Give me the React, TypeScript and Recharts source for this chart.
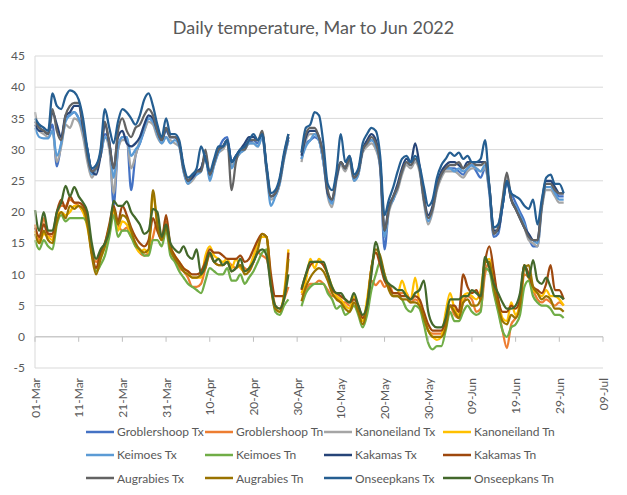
import { LineChart, Line, XAxis, YAxis, CartesianGrid, ReferenceLine } from "recharts";

// day 0 = 01-Mar-2022, one value per day, null = no record
const xTicks = [0, 10, 20, 30, 40, 50, 60, 70, 80, 90, 100, 110, 120, 130];
const xTickLabels = ["01-Mar", "11-Mar", "21-Mar", "31-Mar", "10-Apr", "20-Apr", "30-Apr", "10-May", "20-May", "30-May", "09-Jun", "19-Jun", "29-Jun", "09-Jul"];
const yTicks = [-5, 0, 5, 10, 15, 20, 25, 30, 35, 40, 45];

const groblershoopTx = [
  34.5, 33.5, 33, 32.5, 34, 27.3, 31, 35, 35.5, 36,
  35, 33, 30, 26.5, 27.5, 29, 32.5, 31.5, 21, 30,
  32, 32, 23.5, 29, 31, 33, 35, 34.5, 32.5, 31.5,
  33, 32, 32, 31, 27, 25, 25.5, 26.5, 27, 29,
  26, 28, 30, 31.5, 32, 28, 29, 30, 30.5, 31,
  31.5, 31, 32.5, 27, 22.5, 23, 25, 29, 32, null,
  null, 28.5, 31, 31.5, 32, 31.5, 28, 23, 21.5, 25.5,
  28, 27, 28.5, 25.5, 26.5, 30, 31, 31.5, 30.5, 27,
  14, 20.5, 22, 24, 26.5, 28, 27.5, 28.5, 27, 22,
  19, 20.5, 24, 26, 27, 27, 27, 26.5, 26, 27,
  27.5, 26.5, 25.5, 27, 23, 16, 16.5, 21, 24.5, 23,
  21.5, 20, 18.5, 16, 14.5, 14.5, 21, 24.5, 24.5, 23.5,
  22.5, 22.5,
];
const groblershoopTn = [
  18, 15.5, 19, 16.5, 16, 19.5, 21, 21, 22, 21.5,
  21, 20, 18.5, 14, 12, 13.5, 15, 17.5, 20, 18,
  17, 17.5, 16, 15, 13.5, 13, 13.5, 16, 18.5, 16,
  18.5, 14, 12.5, 11, 10.5, 9.5, 8, 8, 8.5, 11,
  13, 12, 11.5, 11.5, 12, 11.5, 11, 11.5, 11, 10.5,
  12, 13.5, 13, 12.5, 9, 5, 4.5, 6, 8, null,
  null, 6.7, 7.5, 8.5, 8.5, 9, 8.5, 7.5, 6.5, 6.5,
  5.5, 5.5, 5, 5, 4, 3, 5, 9, 8.3, 9,
  8, 8.5, 7, 7, 7, 7, 5.5, 6, 5.5, 3.5,
  1, 0.5, 0.5, 0.5, 2.5, 5, 3.5, 3, 5.5, 6.5,
  6, 4, 4.5, 10, 12, 7.5, 4.5, 1, -1.8, 2,
  3, 5, 10, 9.5, 7.5, 6, 5.5, 6, 5.5, 5,
  5.5, 5,
];
const kanoneilandTx = [
  36, 33, 32.5, 32, 33, 28, 30.5, 34, 33.5, 35,
  34.5, 32, 28, 25.5, 27, 29, 32, 30, 23, 30,
  31.5, 31.5, 27, 29, 31.5, 33, 34.5, 34, 32, 31,
  32, 31.5, 31, 30.5, 26.5, 24.5, 25, 26, 26.5, 28.5,
  25.5, 27.5, 29.5, 30, 31, 27.5, 28.5, 29.5, 30, 31,
  31, 30.5, 32, 26.5, 22, 22.5, 24.5, 28.5, 31.5, null,
  null, 28, 31.5, 32.5, 32.5, 31.5, 28, 22.5, 20.8, 25,
  27.5, 26.5, 28, 25, 26, 29.5, 30.5, 31, 30, 27.5,
  16, 20, 22, 23.5, 26, 27.5, 27, 28, 26.5, 21.5,
  18, 20, 23.5, 25.5, 26.5, 26.5, 26.5, 26, 25.5, 26.5,
  27, 27, 26.5, 27, 23.5, 16.5, 17, 21.5, 26, 22,
  20.5, 19, 17.5, 15.5, 15, 14.5, 20.5, 23.5, 23.5, 22.5,
  21.5, 21.5,
];
const kanoneilandTn = [
  17, 15, 16.5, 16, 15.5, 19.5, 20, 19.5, 20, 21,
  21, 20, 17.5, 13.5, 10.5, 12.5, 14.5, 17, 20.5, 17,
  18.5, 18, 16.5, 14.5, 13.5, 14, 13.5, 23, 18, 15.5,
  17.5, 14.5, 13, 12, 11, 10.5, 9.5, 9.5, 9.5, 13,
  14.5, 13, 12.5, 12, 12.5, 11, 12.5, 11, 10.5, 11,
  13, 15, 16, 16, 9, 4.5, 4, 7, 14, null,
  null, 7, 9, 12.5, 11, 12.5, 11.5, 10, 8, 6.5,
  6, 5, 4.5, 6.5, 4.5, 2.5, 6, 11, 13.5, 12.5,
  9.5, 8, 7, 7, 9, 7, 6, 9.5, 5.5, 3,
  1, 0, -0.5, 0, 4, 7, 4.5, 3.5, 6.5, 7,
  6.5, 6, 7.5, 12, 12.5, 9.5, 6, 3, 2.5, 5.5,
  3.5, 5.5, 11.5, 9.5, 7.5, 7, 6.5, 7.5, 6.5, 6.5,
  6, 5,
];
const keimoesTx = [
  33.5, 32, 31.8, 31.8, 33, 29, 31, 34.5, 35.5, 36,
  35, 33, 29, 26, 27, 29, 32, 31, 25.5, 30.5,
  32, 32, 29, 30, 31, 33.5, 35, 34.5, 32.5, 31,
  32, 31, 31.5, 30.5, 26.5, 24.5, 25.5, 26, 26.5, 29,
  25, 27.5, 29.5, 30.5, 31, 27, 28.5, 29.5, 30, 31,
  31, 30.5, 32, 26.5, 21, 22.5, 24.5, 28.5, 31.5, null,
  null, 28.5, 30.5, 31.5, 32.5, 31.5, 28, 23, 21.3, 25.5,
  28, 27, 28.5, 25, 26, 30, 31, 31.5, 30.5, 27.5,
  16, 20.5, 22, 24, 26.5, 28, 27.5, 28.5, 27, 22,
  18.5, 20.5, 24, 26, 27, 27, 26.5, 27, 26.5, 27,
  27.5, 27, 26.5, 27.5, 23.5, 16.5, 17, 21, 25, 22,
  21, 19.5, 18, 16, 15.5, 15, 21, 24, 24, 23,
  22, 22,
];
const keimoesTn = [
  15.5, 14, 15.5, 14.5, 14, 18, 19.5, 18.5, 19, 19,
  19, 19, 18, 14, 10.5, 11.5, 13, 16, 19.5, 16,
  17, 17, 16, 14.5, 14, 13, 13, 15.5, 15.5, 14.5,
  17, 13, 12, 10.5, 9.5, 8.5, 8, 7.5, 7, 9,
  11, 10.5, 10, 10, 11, 9, 9, 10, 8.5, 9.5,
  10.5, 12, 13.5, 14, 8.5, 4, 3.5, 5, 6, null,
  null, 4.9, 7, 8, 8.5, 8.5, 8.5, 7, 6, 4.5,
  5, 3.5, 4, 5, 3.5, 1.5, 3.5, 7.5, 10, 12,
  10, 8, 6.5, 6.5, 6, 4.5, 4, 5, 4.5, 2,
  -1, -2, -1.5, -1.5, 1, 4, 2.5, 2.5, 4, 5,
  4, 3.5, 4, 11, 10.5, 7, 4, 1, 0, 1.5,
  2, 3.5, 8, 9, 6.5, 5.5, 5, 5, 4.5, 3.5,
  3.5, 3,
];
const kakamasTx = [
  34, 33, 33, 32.5, 36, 34, 32, 35.5, 36, 37,
  37, 33.5, 30, 26.5, 26, 29, 34, 31, 27, 32,
  33, 31, 30.5, 31, 32, 34, 35.5, 35, 33, 31.5,
  33.5, 32, 32, 31, 27, 25, 25.5, 26.5, 27, 29,
  26, 28, 30, 30.5, 31.5, 28, 29, 30, 31, 32,
  32, 31.5, 32.5, 27, 22.5, 23, 25, 29, 32, null,
  null, 29, 32, 33, 33, 32, 29, 23, 22, 25.5,
  28, 27, 29, 25.5, 26.5, 30, 31.5, 32.5, 31.5, 28,
  17, 21, 22.5, 24.5, 27, 28.5, 28, 31, 27.5, 22.5,
  19.5, 21, 24.5, 26.5, 27.5, 28, 28, 27.5, 27, 28,
  28, 28, 28, 28, 24, 17, 17, 21, 25, 22,
  20.5, 19, 17.5, 16.5, 15.5, 15.5, 21.5, 25, 25, 24,
  23, 23,
];
const kakamasTn = [
  17.5, 16, 18, 16.5, 16.5, 20, 22, 20.5, 22.5, 21.5,
  21.5, 21, 19, 13.5, 11, 13.5, 15, 18, 21, 18.5,
  21, 19.5, 17.5, 16, 15, 14.5, 15.5, 19, 17, 15.5,
  19.5, 14.5, 13, 12, 11, 10.5, 10, 10, 10.5, 12,
  14, 13.5, 13.5, 13, 12.5, 12.5, 12.5, 13, 12, 12.5,
  14, 15.5, 16.5, 16, 10, 6.5, 6.5, 6.5, 13.5, null,
  null, 7.5, 10, 11.5, 12, 12, 11.5, 10, 7.5, 7,
  6.5, 6, 5.5, 6, 5, 3, 5, 11, 13.5, 11.5,
  9, 8, 7, 7, 6.5, 6.5, 6, 6.5, 6, 4,
  2, 1, 1, 1, 2.5, 5, 5, 4, 10, 8,
  7, 7.5, 6, 12, 14.5, 10.5, 6, 4, 4, 5,
  4.5, 6, 11.5, 10, 8, 7.5, 7, 8.5, 11.5, 7.5,
  7.5, 6,
];
const augrabiesTx = [
  34.5, 33.5, 33, 32.5, 36.5, 33, 31.5, 35.5, 37, 37.5,
  37.5, 34, 29, 26.5, 27, 29.5, 34.5, 31, 27, 33,
  35, 33, 32, 33.5, 34, 35.5, 36.5, 35.5, 33, 31.5,
  33.5, 32, 32, 31, 27, 25, 26, 26.5, 26.5, 30,
  26, 28, 30, 30.5, 31.5, 23.5, 28, 30, 30, 31.5,
  31.5, 31.5, 33, 27, 22.5, 23, 25, 29, 32.5, null,
  null, 29.5, 32.5, 33.5, 33.5, 32, 29, 23.5, 22, 26,
  28, 27, 28.5, 25.5, 26.5, 30, 31, 32, 31, 27.5,
  17, 20.5, 22.5, 24, 26.5, 28, 27.5, 28.5, 27, 22,
  19, 20.5, 24, 26, 27, 27.5, 27.5, 28, 27, 27.5,
  28, 27.5, 27.5, 28, 24, 16.5, 17.5, 22, 26.3, 22,
  20.5, 19, 17.5, 16, 15.5, 15.5, 21, 24.5, 24.5, 23.5,
  23, 23,
];
const augrabiesTn = [
  16.5, 15, 17, 15.5, 15, 18.5, 20, 19, 21, 20.5,
  21, 20.5, 18, 13, 10, 12.5, 14.5, 17.5, 20.5, 18,
  19.5, 19, 17, 15, 14, 13.5, 14, 23.5, 18, 15.5,
  17.5, 14, 12.5, 11.5, 10.5, 10, 9.5, 9.5, 10, 11,
  13.5, 12, 11.5, 11.5, 12, 10.5, 11, 11.5, 10, 10.5,
  12, 14, 16.5, 16, 8, 4.5, 4, 6.5, 12.5, null,
  null, 5.7, 8, 9.5, 10.5, 11, 10.5, 9, 7, 6,
  5.5, 4.5, 4, 5.5, 4, 2, 5, 11, 14, 13,
  10, 7.5, 6.5, 6.5, 6, 6, 5.5, 5.5, 5, 3,
  1, 0, 0, 0, 1.5, 5, 4, 3, 5.5, 6,
  5, 5, 6, 12, 12, 8, 5, 2.5, 2, 3.5,
  3, 5, 11, 11.5, 8, 7, 6, 6.5, 6, 4.5,
  4.5, 4,
];
const onseepkansTx = [
  35, 34, 33.5, 33, 39, 37, 36.5, 38.5, 39.5, 39.2,
  38, 35, 30, 27, 27.5, 30, 36.5, 33.5, 31, 34.5,
  36.5, 36, 35, 34, 35.5, 38, 39, 37, 34, 32,
  35, 32.5, 32.5, 31.5, 27.5, 25.5, 26, 27, 30.5, 28.5,
  26.5, 28.5, 30.5, 30.5, 31.5, 28, 29, 30, 30.5, 31.5,
  32.5, 31.5, 32.5, 27.5, 23, 23.5, 25.5, 29.5, 32.5, null,
  null, 29.5, 33.5, 34, 36, 35.5, 31, 24.5, 23.5, 26.5,
  32.5, 28, 29, 26, 27, 31, 32.5, 33.5, 33, 29,
  19.5, 22, 24, 26.5, 28.5, 29, 28, 29, 27.5, 24,
  21, 22, 25.5, 27.5, 28.5, 29.5, 29, 29.5, 28.5, 29,
  28, 28, 28.5, 31.5, 24, 17.5, 18, 21, 25, 23,
  22.5, 22, 21, 20.5, 22, 18, 22, 25.5, 26, 24.5,
  24.5, 23,
];
const onseepkansTn = [
  20.3, 17, 20, 17, 17, 20, 21.5, 24.2, 22.5, 24,
  22.5, 21.5, 20, 15, 12.5, 14, 15, 17, 21.8, 21,
  21, 21.7, 20, 19, 18, 16.5, 17, 20.5, 20, 16,
  18, 15, 14, 13.5, 14.5, 13, 12.5, 14, 10, 11.5,
  13.5, 12, 12.5, 11.5, 12, 10.5, 11, 12.5, 10.5, 11,
  12, 13.5, 14, 13, 8, 5, 4.5, 6, 10, null,
  null, 7.7, 10, 12, 12, 12, 12, 10, 8, 7,
  7, 6, 5.5, 7, 5, 3.5, 5, 10, 15.2, 12.5,
  9.5, 8.5, 8, 7.5, 7.5, 6.5, 6, 7, 7.5, 9,
  4, 2, 1.5, 1.5, 3, 6, 6, 6, 6.5, 6.5,
  7.5, 7, 6.5, 12.8, 11, 8.5, 7, 5.5, 4.5, 4.5,
  5, 7, 11.5, 9.5, 12.3, 9, 8.5, 9.5, 8, 6.5,
  6.5, 6,
];

const series = [
  { key: "grobTx", name: "Groblershoop Tx", color: "#4472C4", values: groblershoopTx },
  { key: "grobTn", name: "Groblershoop Tn", color: "#ED7D31", values: groblershoopTn },
  { key: "kanoTx", name: "Kanoneiland Tx", color: "#A5A5A5", values: kanoneilandTx },
  { key: "kanoTn", name: "Kanoneiland Tn", color: "#FFC000", values: kanoneilandTn },
  { key: "keimTx", name: "Keimoes Tx", color: "#5B9BD5", values: keimoesTx },
  { key: "keimTn", name: "Keimoes Tn", color: "#70AD47", values: keimoesTn },
  { key: "kakaTx", name: "Kakamas Tx", color: "#264478", values: kakamasTx },
  { key: "kakaTn", name: "Kakamas Tn", color: "#9E480E", values: kakamasTn },
  { key: "augrTx", name: "Augrabies Tx", color: "#636363", values: augrabiesTx },
  { key: "augrTn", name: "Augrabies Tn", color: "#997300", values: augrabiesTn },
  { key: "onseTx", name: "Onseepkans Tx", color: "#255E91", values: onseepkansTx },
  { key: "onseTn", name: "Onseepkans Tn", color: "#43682B", values: onseepkansTn },
];

const chartData = groblershoopTx.map((_, day) => {
  const row: Record<string, number | null> = { day };
  series.forEach((s) => {
    row[s.key] = s.values[day];
  });
  return row;
});

const W = 627;
const H = 495;
const PLOT_TOP = 56;
const PLOT_BOTTOM = 368;
const Y_MIN = -5;
const Y_MAX = 45;
const ZERO_Y = PLOT_TOP + ((Y_MAX - 0) / (Y_MAX - Y_MIN)) * (PLOT_BOTTOM - PLOT_TOP);
const FONT = "Lato, 'Open Sans', sans-serif";
const TEXT = "#595959";

const DateTick = (props: any) => {
  const { x, payload } = props;
  const label = xTickLabels[xTicks.indexOf(payload.value)];
  return (
    <g>
      <line x1={x} x2={x} y1={ZERO_Y} y2={ZERO_Y + 5} stroke="#bfbfbf" />
      <text
        x={x}
        y={378}
        transform={`rotate(-90, ${x}, 378)`}
        textAnchor="end"
        dominantBaseline="central"
        fontSize={12}
        fill={TEXT}
        fontFamily={FONT}
      >
        {label}
      </text>
    </g>
  );
};

export default function App() {
  return (
    <div style={{ position: "relative", width: W, height: H, background: "#fff", fontFamily: FONT }}>
      <style>{`body{margin:0}`}</style>
      <div
        style={{
          position: "absolute",
          top: 16,
          left: 0,
          width: W,
          textAlign: "center",
          fontSize: 18,
          color: TEXT,
        }}
      >
        Daily temperature, Mar to Jun 2022
      </div>
      <LineChart width={W} height={H} data={chartData} margin={{ top: PLOT_TOP, right: 24, bottom: 0, left: 0 }}>
        <CartesianGrid vertical={false} stroke="#d9d9d9" />
        <XAxis
          type="number"
          dataKey="day"
          domain={[0, 130]}
          ticks={xTicks}
          interval={0}
          height={H - PLOT_BOTTOM}
          axisLine={false}
          tickLine={false}
          tick={<DateTick />}
        />
        <YAxis
          domain={[Y_MIN, Y_MAX]}
          ticks={yTicks}
          interval={0}
          width={35}
          axisLine={{ stroke: "#d9d9d9" }}
          tickLine={false}
          tickSize={8}
          tick={{ fontSize: 12, fill: TEXT, fontFamily: FONT }}
        />
        <ReferenceLine y={0} stroke="#bfbfbf" />
        {series.map((s) => (
          <Line
            key={s.key}
            type="monotone"
            dataKey={s.key}
            name={s.name}
            stroke={s.color}
            strokeWidth={2.25}
            dot={false}
            isAnimationActive={false}
          />
        ))}
      </LineChart>
      <div
        style={{
          position: "absolute",
          top: 420,
          left: 86,
          display: "grid",
          gridTemplateColumns: "repeat(4, 119px)",
          gridAutoRows: "23.3px",
          fontSize: 12,
          color: TEXT,
        }}
      >
        {series.map((s) => (
          <div key={s.key} style={{ display: "flex", alignItems: "center", whiteSpace: "nowrap" }}>
            <svg width={28} height={4} style={{ marginRight: 3 }}>
              <line x1={0} x2={28} y1={2} y2={2} stroke={s.color} strokeWidth={2.5} />
            </svg>
            {s.name}
          </div>
        ))}
      </div>
    </div>
  );
}
